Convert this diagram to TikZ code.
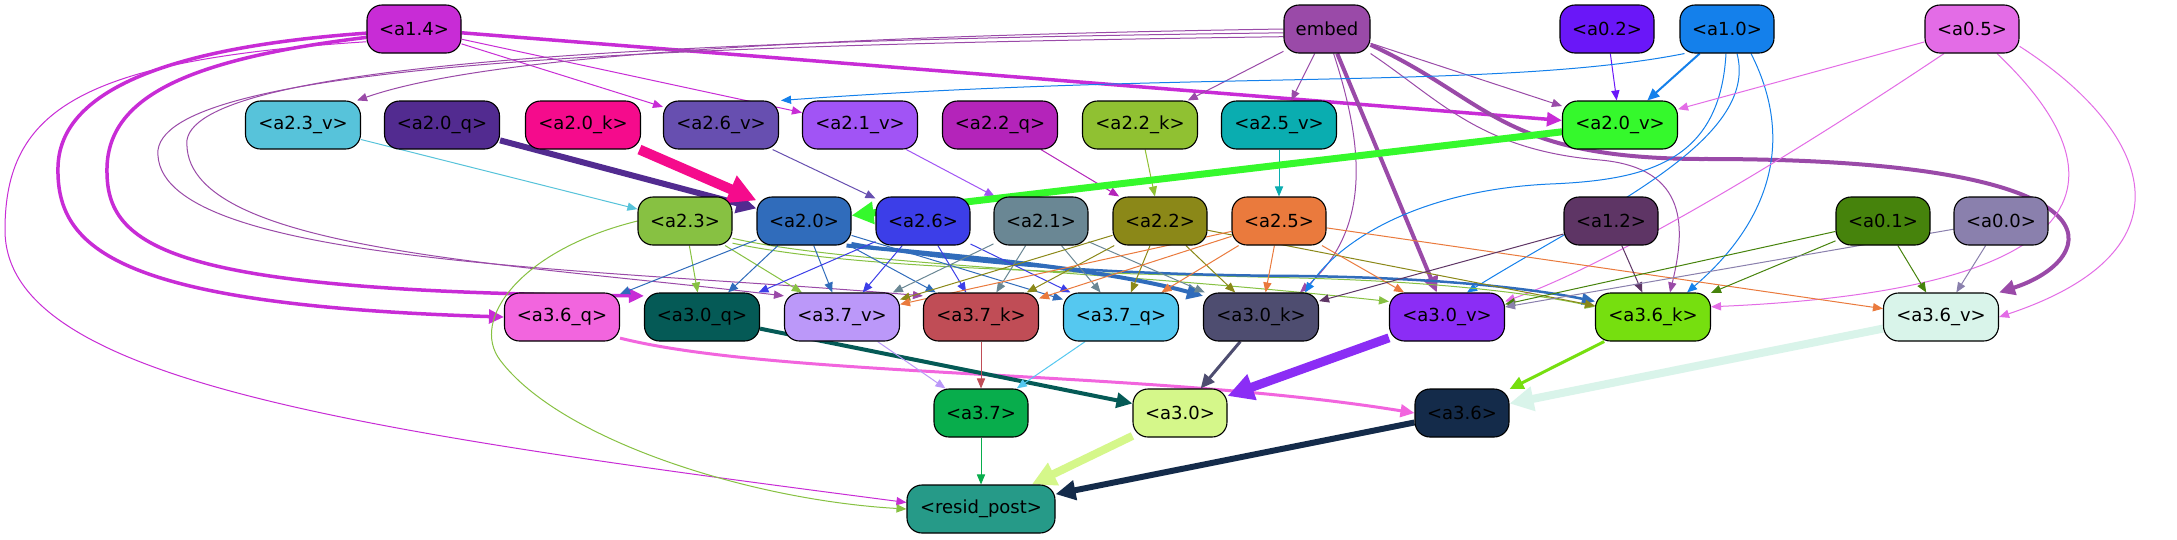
\documentclass[tikz,border=0pt]{standalone}
\usepackage{fontspec}
\setmainfont{DejaVu Sans}
\usetikzlibrary{arrows.meta}
\pgfdeclarelayer{bg}
\pgfsetlayers{bg,main}
\definecolor{cA14}{HTML}{C82CD6}
\definecolor{cEmb}{HTML}{9A4AA8}
\definecolor{cA02}{HTML}{6A17F8}
\definecolor{cA10}{HTML}{1480EB}
\definecolor{cA05}{HTML}{E36CE6}
\definecolor{cA23v}{HTML}{57C3DA}
\definecolor{cA20q}{HTML}{522B90}
\definecolor{cA20k}{HTML}{F50B8C}
\definecolor{cA26v}{HTML}{674FB0}
\definecolor{cA21v}{HTML}{A154F5}
\definecolor{cA22q}{HTML}{B424BA}
\definecolor{cA22k}{HTML}{90C132}
\definecolor{cA25v}{HTML}{0AADB0}
\definecolor{cA20v}{HTML}{35F92C}
\definecolor{cA23}{HTML}{87C142}
\definecolor{cA20}{HTML}{306CBB}
\definecolor{cA26}{HTML}{3C3EE8}
\definecolor{cA21}{HTML}{6A8794}
\definecolor{cA22}{HTML}{8B8818}
\definecolor{cA25}{HTML}{EA7A3D}
\definecolor{cA12}{HTML}{5E3565}
\definecolor{cA01}{HTML}{46830C}
\definecolor{cA00}{HTML}{8A80AD}
\definecolor{cA36q}{HTML}{F265DE}
\definecolor{cA30q}{HTML}{055A56}
\definecolor{cA37v}{HTML}{BB98F9}
\definecolor{cA37k}{HTML}{C04D56}
\definecolor{cA37q}{HTML}{55C8F0}
\definecolor{cA30k}{HTML}{4E4D70}
\definecolor{cA30v}{HTML}{8B2DF5}
\definecolor{cA36k}{HTML}{76DF0F}
\definecolor{cA36v}{HTML}{D9F4EA}
\definecolor{cA37}{HTML}{08AD4C}
\definecolor{cA30}{HTML}{D5F78A}
\definecolor{cA36}{HTML}{142B4A}
\definecolor{cRes}{HTML}{269A88}
\tikzset{
  nd/.style={draw=black, line width=1.1pt, rounded corners=15pt, minimum height=48pt,
    inner sep=0pt, font=\fontsize{18}{20}\selectfont, text=black},
  sw/.style={minimum width=94pt},
  mw/.style={minimum width=115pt},
  ed/.style={draw=#1, line width=1pt, -{Triangle[length=8pt 2,width=6pt 2.2]}},
  lw/.style={line width=#1pt},
}
\begin{document}
\begin{tikzpicture}[x=1pt,y=-1pt]
\useasboundingbox (0,0) rectangle (2177,539);
% row 1
\node[nd,sw,fill=cA14] (a14) at (414,29) {<a1.4>};
\node[nd,minimum width=86pt,fill=cEmb] (emb) at (1327,29) {embed};
\node[nd,sw,fill=cA02] (a02) at (1607,29) {<a0.2>};
\node[nd,sw,fill=cA10] (a10) at (1727,29) {<a1.0>};
\node[nd,sw,fill=cA05] (a05) at (1972,29) {<a0.5>};
% row 2
\node[nd,mw,fill=cA23v] (a23v) at (303,125) {<a2.3\_v>};
\node[nd,mw,fill=cA20q] (a20q) at (442,125) {<a2.0\_q>};
\node[nd,mw,fill=cA20k] (a20k) at (583,125) {<a2.0\_k>};
\node[nd,mw,fill=cA26v] (a26v) at (721,125) {<a2.6\_v>};
\node[nd,mw,fill=cA21v] (a21v) at (860,125) {<a2.1\_v>};
\node[nd,mw,fill=cA22q] (a22q) at (1000,125) {<a2.2\_q>};
\node[nd,mw,fill=cA22k] (a22k) at (1140,125) {<a2.2\_k>};
\node[nd,mw,fill=cA25v] (a25v) at (1279,125) {<a2.5\_v>};
\node[nd,mw,fill=cA20v] (a20v) at (1620,125) {<a2.0\_v>};
% row 3
\node[nd,sw,fill=cA23] (a23) at (685,221) {<a2.3>};
\node[nd,sw,fill=cA20] (a20) at (804,221) {<a2.0>};
\node[nd,sw,fill=cA26] (a26) at (923,221) {<a2.6>};
\node[nd,sw,fill=cA21] (a21) at (1041,221) {<a2.1>};
\node[nd,sw,fill=cA22] (a22) at (1160,221) {<a2.2>};
\node[nd,sw,fill=cA25] (a25) at (1279,221) {<a2.5>};
\node[nd,sw,fill=cA12] (a12) at (1611,221) {<a1.2>};
\node[nd,sw,fill=cA01] (a01) at (1883,221) {<a0.1>};
\node[nd,sw,fill=cA00] (a00) at (2001,221) {<a0.0>};
% row 4
\node[nd,mw,fill=cA36q] (a36q) at (562,317) {<a3.6\_q>};
\node[nd,mw,fill=cA30q] (a30q) at (702,317) {<a3.0\_q>};
\node[nd,mw,fill=cA37v] (a37v) at (842,317) {<a3.7\_v>};
\node[nd,mw,fill=cA37k] (a37k) at (981,317) {<a3.7\_k>};
\node[nd,mw,fill=cA37q] (a37q) at (1121,317) {<a3.7\_q>};
\node[nd,mw,fill=cA30k] (a30k) at (1261,317) {<a3.0\_k>};
\node[nd,mw,fill=cA30v] (a30v) at (1447,317) {<a3.0\_v>};
\node[nd,mw,fill=cA36k] (a36k) at (1653,317) {<a3.6\_k>};
\node[nd,mw,fill=cA36v] (a36v) at (1941,317) {<a3.6\_v>};
% row 5
\node[nd,sw,fill=cA37] (a37) at (981,413) {<a3.7>};
\node[nd,sw,fill=cA30] (a30) at (1180,413) {<a3.0>};
\node[nd,sw,fill=cA36] (a36) at (1462,413) {<a3.6>};
% row 6
\node[nd,minimum width=148pt,fill=cRes] (res) at (981,509) {<resid\_post>};

\begin{pgfonlayer}{bg}
\fill[white] (0,0) rectangle (2177,539);
% a1.4
\draw[ed=cA14,lw=3.5] (a14) -- (a20v);
\draw[ed=cA14] (a14) -- (a26v);
\draw[ed=cA14] (a14) -- (a21v);
\draw[ed=cA14,lw=3.5] (a14.185) .. controls (200,45) and (60,80) .. (58,167) .. controls (56,250) and (120,305) .. (a36q.west);
\draw[ed=cA14,lw=3.5] (a14.190) .. controls (180,60) and (105,100) .. (107,173) .. controls (108,250) and (180,292) .. (a30q.160);
\draw[ed=cA14] (a14.195) .. controls (80,60) and (5,110) .. (5,230) .. controls (5,380) and (350,430) .. (res.175);
% embed
\draw[ed=cEmb] (emb) -- (a22k);
\draw[ed=cEmb] (emb) -- (a25v);
\draw[ed=cEmb] (emb) -- (a20v);
\draw[ed=cEmb,lw=4] (emb) -- (a30v);
\draw[ed=cEmb] (emb.west) .. controls (900,35) and (500,50) .. ([xshift=-4pt]a23v.north east);
\draw[ed=cEmb] (emb.185) .. controls (700,40) and (200,60) .. (187,140) .. controls (180,250) and (500,262) .. (a37v.160);
\draw[ed=cEmb] (emb.190) .. controls (700,45) and (170,60) .. (158,150) .. controls (150,265) and (600,268) .. (a37k.160);
\draw[ed=cEmb] (emb.-75) .. controls (1365,150) and (1370,230) .. ([xshift=39pt]a30k.north);
\draw[ed=cEmb] (emb.south east) .. controls (1440,100) and (1480,150) .. (1600,160) .. controls (1690,168) and (1685,230) .. ([xshift=17pt]a36k.north);
\draw[ed=cEmb,lw=4] (emb.-20) .. controls (1490,100) and (1500,158) .. (1700,159) .. controls (2140,158) and (2100,260) .. (a36v.north east);
% a0.2, a1.0, a0.5
\draw[ed=cA02] (a02) -- (a20v);
\draw[ed=cA10,lw=2] (a10) -- (a20v);
\draw[ed=cA10] (a10.-150) .. controls (1500,90) and (1200,70) .. ([xshift=2pt]a26v.north east);
\draw[ed=cA10] ([xshift=-1pt]a10.south) .. controls (1720,160) and (1650,180) .. (1550,184) .. controls (1420,190) and (1340,240) .. ([xshift=44pt]a30k.north);
\draw[ed=cA10] ([xshift=10pt]a10.south) .. controls (1760,140) and (1600,210) .. ([xshift=20pt]a30v.north);
\draw[ed=cA10] ([xshift=24pt]a10.south) .. controls (1800,150) and (1760,230) .. ([xshift=34pt]a36k.north);
\draw[ed=cA05] (a05) -- (a20v);
\draw[ed=cA05] ([xshift=-28pt]a05.south) .. controls (1800,150) and (1620,260) .. (a30v.15);
\draw[ed=cA05] ([xshift=25pt]a05.south) .. controls (2130,180) and (2100,290) .. (a36k.10);
\draw[ed=cA05] (a05.-20) .. controls (2150,130) and (2200,250) .. (a36v.east);
% row 2 -> row 3
\draw[ed=cA23v] (a23v) -- (a23);
\draw[ed=cA20q,lw=6] (a20q) -- (a20);
\draw[ed=cA20k,lw=10] (a20k) -- (a20);
\draw[ed=cA26v] (a26v) -- (a26);
\draw[ed=cA21v] (a21v) -- (a21);
\draw[ed=cA22q] (a22q) -- (a22);
\draw[ed=cA22k] (a22k) -- (a22);
\draw[ed=cA25v] (a25v) -- (a25);
\draw[ed=cA20v,lw=7] (a20v) -- (a20);
% a2.3
\draw[ed=cA23] (a23) -- (a30q);
\draw[ed=cA23] (a23) -- (a37v);
\draw[ed=cA23] (a23.-20) .. controls (850,265) and (1100,270) .. (a30v.165);
\draw[ed=cA23] (a23.-25) .. controls (850,268) and (1050,272) .. (1300,278) .. controls (1450,282) and (1540,295) .. (a36k.170);
\draw[ed=cA23] (a23.west) .. controls (520,250) and (470,320) .. (500,360) .. controls (560,440) and (750,500) .. (res.west);
% a2.0
\draw[ed=cA20] (a20) -- (a36q);
\draw[ed=cA20] (a20) -- (a30q);
\draw[ed=cA20] (a20) -- (a37v);
\draw[ed=cA20] (a20) -- (a37k);
\draw[ed=cA20] (a20) -- (a37q);
\draw[ed=cA20,lw=4] (a20.-30) .. controls (950,255) and (1100,268) .. (a30k.160);
\draw[ed=cA20,lw=2.5] (a20.-25) .. controls (950,262) and (1100,275) .. (1300,276) .. controls (1450,278) and (1540,290) .. (a36k.165);
% a2.6
\draw[ed=cA26] (a26) -- (a30q);
\draw[ed=cA26] (a26) -- (a37v);
\draw[ed=cA26] (a26) -- (a37k);
\draw[ed=cA26] (a26) -- (a37q);
% a2.1
\draw[ed=cA21] (a21) -- (a37v);
\draw[ed=cA21] (a21) -- (a37k);
\draw[ed=cA21] (a21) -- (a37q);
\draw[ed=cA21] (a21) -- (a30k);
% a2.2
\draw[ed=cA22] (a22) -- (a37v);
\draw[ed=cA22] (a22) -- (a37k);
\draw[ed=cA22] (a22) -- (a37q);
\draw[ed=cA22] (a22) -- (a30k);
\draw[ed=cA22] (a22) -- (a36k);
% a2.5
\draw[ed=cA25] (a25) -- (a37v);
\draw[ed=cA25] (a25) -- (a37k);
\draw[ed=cA25] (a25) -- (a37q);
\draw[ed=cA25] (a25) -- (a30k);
\draw[ed=cA25] (a25) -- (a30v);
\draw[ed=cA25] (a25) -- (a36v);
% a1.2, a0.1, a0.0
\draw[ed=cA12] (a12) -- (a30k);
\draw[ed=cA12] (a12) -- (a36k);
\draw[ed=cA01] (a01) -- (a30v);
\draw[ed=cA01] (a01) -- (a36k);
\draw[ed=cA01] (a01) -- (a36v);
\draw[ed=cA00] (a00) -- (a30v);
\draw[ed=cA00] (a00) -- (a36v);
% row 4 -> row 5
\draw[ed=cA36q,lw=3] (a36q.-20) .. controls (780,378) and (1150,370) .. (a36.west);
\draw[ed=cA30q,lw=4] (a30q) -- (a30);
\draw[ed=cA37v] (a37v) -- (a37);
\draw[ed=cA37k] (a37k) -- (a37);
\draw[ed=cA37q] (a37q) -- (a37);
\draw[ed=cA30k,lw=3] (a30k) -- (a30);
\draw[ed=cA30v,lw=9] (a30v) -- (a30);
\draw[ed=cA36k,lw=3] (a36k) -- (a36);
\draw[ed=cA36v,lw=8] (a36v) -- (a36);
% row 5 -> resid
\draw[ed=cA37] (a37) -- (res);
\draw[ed=cA30,lw=8] (a30) -- (res);
\draw[ed=cA36,lw=6] (a36) -- (res);
\end{pgfonlayer}
\end{tikzpicture}
\end{document}
